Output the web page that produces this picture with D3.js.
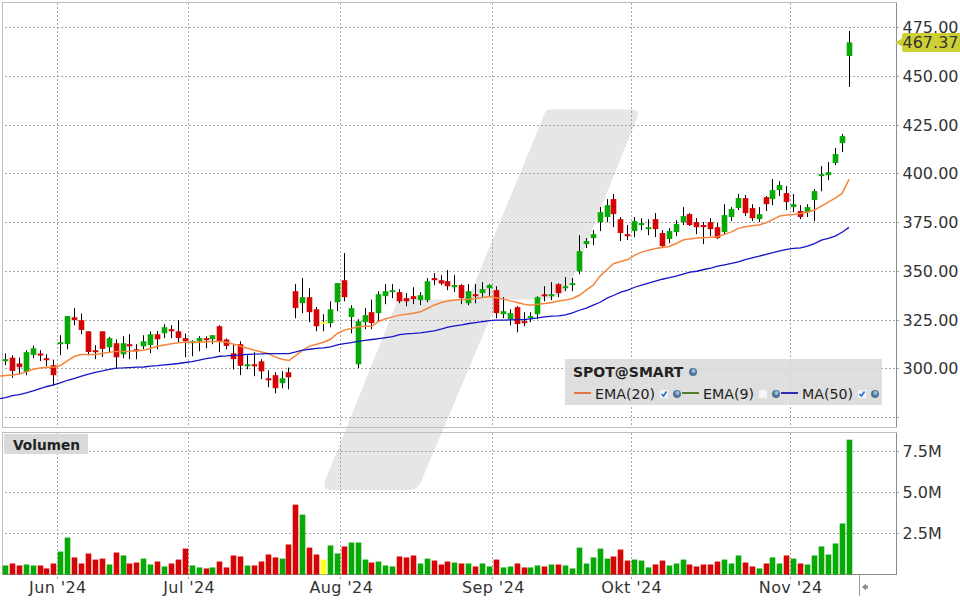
<!DOCTYPE html>
<html>
<head>
<meta charset="utf-8">
<script src="https://cdnjs.cloudflare.com/ajax/libs/d3/7.8.5/d3.min.js"></script>
<style>
  html, body { margin: 0; padding: 0; background: #fff; }
  svg { display: block; font-family: "DejaVu Sans", sans-serif; }
  .grid line { stroke: #a6a6a6; stroke-dasharray: 2 2; shape-rendering: crispEdges; }
  .grid path { display: none; }
  .labels path, .labels line { display: none; }
  .labels text { fill: #333; }
</style>
</head>
<body>
<svg id="chart" width="960" height="600"></svg>
<script>
// Candles, one entry per trading day
const opens = [304.0,305.7,302.7,298.4,307.1,307.8,305.4,301.8,312.6,312.7,326.4,324.9,319.2,309.5,319.2,311.0,313.1,307.4,312.6,310.0,
  311.5,312.1,317.7,318.2,320.3,319.2,315.7,313.1,314.1,315.7,315.1,321.8,315.0,307.9,312.6,301.3,302.3,303.8,295.1,296.7,
  292.6,298.2,339.8,333.6,336.7,330.5,323.5,323.4,334.1,345.4,326.5,302.3,323.9,329.0,328.5,337.2,339.3,339.3,336.2,337.2,
  335.2,335.2,346.5,345.4,344.9,341.8,342.9,333.6,338.2,338.8,341.3,340.3,328.0,325.4,331.6,324.4,326.0,328.0,338.2,337.2,
  343.4,341.3,342.9,350.0,363.9,367.0,375.2,377.8,387.0,376.7,369.0,370.6,373.7,371.6,376.7,369.6,366.5,370.1,375.2,379.3,
  375.2,373.7,375.2,372.6,370.1,377.8,382.4,387.5,382.4,376.7,388.0,387.0,391.6,390.1,382.9,380.9,380.3,386.5,398.8,399.3,
  405.5,415.7,460.4];
const closes = [304.9,298.9,300.8,308.5,310.5,306.9,304.4,296.7,313.6,327.0,324.9,319.9,308.6,308.6,310.2,315.7,305.9,313.1,311.5,309.3,
  314.1,317.7,315.1,321.3,319.2,315.7,314.1,314.1,315.7,314.8,317.2,314.1,311.7,304.9,301.5,302.3,301.3,298.7,294.1,290.0,
  295.1,295.6,331.1,336.7,329.0,321.8,323.5,330.5,343.9,336.7,331.1,324.4,327.5,323.4,338.2,339.8,340.3,334.6,334.6,335.7,
  337.7,344.9,345.4,343.7,342.3,342.9,336.2,339.8,337.2,340.8,342.9,328.5,329.5,328.5,322.9,323.4,327.0,336.7,337.2,338.2,
  338.8,342.3,343.9,360.3,365.5,369.0,380.3,383.9,379.3,369.6,368.0,375.7,374.7,372.6,371.6,362.9,370.6,374.2,378.3,373.7,
  372.6,372.6,371.6,367.0,378.8,381.9,387.5,379.8,377.2,379.3,384.4,391.6,394.2,385.5,384.4,377.8,382.9,391.1,399.8,400.8,
  410.1,419.3,467.4];
const highs = [307.8,306.9,305.7,309.5,311.9,309.5,307.4,304.7,317.2,327.0,331.1,328.3,319.2,312.1,319.2,316.3,315.1,316.7,317.7,312.6,
  317.2,319.2,319.4,322.8,322.3,324.9,318.0,314.6,316.7,316.7,317.2,322.3,315.5,312.6,314.1,306.9,308.5,304.9,299.2,298.2,
  298.7,300.6,343.4,346.5,341.3,331.6,328.0,334.6,343.9,359.3,332.6,325.4,331.1,335.5,339.8,343.4,343.4,340.8,338.8,341.8,
  339.3,346.5,349.0,348.0,350.6,348.0,343.4,343.4,343.4,344.4,343.4,342.3,336.7,330.5,332.1,329.0,329.0,337.2,342.3,344.4,
  343.9,347.0,346.5,368.5,367.0,371.1,382.9,387.0,389.6,377.8,373.7,377.8,377.2,376.7,379.8,371.1,372.1,376.2,382.9,379.8,
  377.2,375.2,377.2,374.7,384.4,382.9,389.6,389.1,384.4,382.9,388.6,397.3,396.2,393.7,389.6,383.9,384.4,392.1,403.9,406.0,
  413.2,420.4,473.2];
const lows = [301.8,295.3,297.2,296.7,305.4,304.0,301.3,291.5,306.9,310.0,322.3,317.7,306.9,304.9,306.1,308.6,300.1,305.4,304.9,304.9,
  310.0,308.0,310.0,315.7,315.7,313.6,305.9,306.4,309.0,310.5,312.6,308.5,310.0,299.7,296.7,299.7,296.2,294.6,290.5,287.4,
  290.0,289.5,325.9,328.5,323.9,319.2,319.2,321.3,329.5,334.6,318.2,300.3,320.3,320.3,324.4,333.1,336.2,333.6,332.1,333.1,
  332.6,334.1,342.9,342.9,340.3,339.3,333.1,332.6,333.6,336.7,337.2,325.9,325.9,322.3,318.7,321.8,323.9,325.4,334.6,335.2,
  336.7,339.8,339.8,348.5,361.9,363.4,370.6,375.2,372.6,365.5,366.0,367.5,371.1,368.5,367.5,362.4,364.4,368.0,373.7,373.2,
  369.0,363.9,368.0,366.5,369.0,375.7,381.4,378.3,375.7,375.2,380.9,383.9,388.6,381.4,380.3,376.7,377.8,375.7,391.0,396.7,
  404.4,411.1,444.5];
// Volume in millions of shares
const volumes = [.55,.67,.55,.61,.55,.55,.37,.67,1.40,2.25,1.04,.67,1.28,.91,.97,.61,1.34,1.16,.67,.73,
  .97,.61,.79,.49,.67,.91,1.58,.55,.43,.37,.43,.79,.43,1.16,1.10,.55,.55,.79,1.22,1.04,
  .97,1.83,4.26,3.65,1.64,1.22,.91,1.77,1.28,1.71,1.95,1.95,.91,.73,.79,.55,.49,1.10,1.04,1.16,
  .67,.97,.85,.61,.79,.73,.67,.67,.49,.67,.49,.91,.43,.49,.67,.43,.43,.55,.49,.61,
  .61,.55,.37,1.64,.67,1.04,1.58,.97,1.10,1.52,.85,.91,.85,.43,.61,.85,.55,.67,.91,.61,
  .49,.61,.61,.79,.91,.67,1.16,.73,.49,.37,.67,1.04,.67,1.16,.97,.67,.61,1.16,1.71,1.22,
  1.89,3.11,8.22];
// Moving averages start one bar before the first candle
const ema20 = [296.2,296.5,296.8,297.3,298.4,299.7,300.4,300.8,300.8,301.8,304.2,306.4,307.3,307.3,307.3,307.9,308.4,308.8,308.9,309.0,309.2,
  309.5,310.5,311.5,312.2,312.8,313.3,313.6,313.6,313.6,313.9,314.0,314.0,313.6,312.6,311.5,310.5,309.5,308.6,307.8,306.1,
  304.9,304.2,306.9,309.5,311.6,312.6,313.6,315.1,318.1,319.8,320.6,321.5,321.8,321.8,324.4,325.6,326.6,327.5,328.0,328.5,
  329.2,330.9,332.6,334.0,334.7,335.2,335.5,335.7,336.0,336.5,337.0,336.4,335.7,334.8,334.0,333.1,332.6,333.1,333.5,334.0,
  334.7,335.2,336.0,337.7,340.3,342.9,347.5,350.9,354.0,355.0,356.0,358.3,359.8,360.8,361.7,362.2,362.7,364.2,366.0,366.6,
  367.0,367.2,367.4,367.7,368.9,370.2,372.0,372.8,373.3,373.7,374.9,376.6,378.3,378.8,379.1,379.6,380.3,381.4,383.4,385.5,
  387.5,389.9,397.1];
const ma50 = [284.5,285.2,286.2,286.7,287.6,288.6,289.8,290.9,291.7,292.9,294.1,295.1,296.2,297.2,298.2,298.9,299.7,300.3,300.4,300.6,300.8,
  300.9,301.3,301.6,302.0,302.3,302.7,303.2,303.7,304.4,305.2,305.7,306.4,306.6,306.9,307.1,307.4,307.5,307.6,307.8,307.8,
  307.8,307.8,308.6,309.5,310.0,310.4,310.7,311.2,312.2,312.9,313.4,314.0,314.5,315.0,315.5,316.0,316.5,317.5,317.9,318.1,
  318.4,318.9,319.4,320.3,321.3,322.0,322.5,323.2,323.7,324.2,324.7,324.9,324.9,325.1,325.2,325.2,325.6,326.1,326.6,327.0,
  327.1,327.6,328.7,330.0,331.1,332.6,334.1,336.2,337.7,339.3,340.3,341.8,342.9,343.9,344.9,345.9,346.7,347.5,348.5,349.5,
  350.0,350.9,351.6,352.6,353.3,354.0,354.8,355.9,356.9,357.7,358.6,359.5,360.5,361.2,361.7,362.0,362.9,364.2,366.0,366.8,
  368.0,370.0,372.5];
// Axis ticks
const priceTicks = [300, 325, 350, 375, 400, 425, 450, 475];
const priceGrid = [275, 300, 325, 350, 375, 400, 425, 450, 475];
const volumeTicks = [2.5, 5, 7.5];
const monthBreaks = [7.5, 26.5, 48.5, 70.5, 90.5, 113.5];
const monthNames = ["Jun '24", "Jul '24", "Aug '24", "Sep '24", "Okt '24", "Nov '24"];
const lastPrice = 467.37;
const symbolName = "SPOT@SMART";
const volumeTitle = "Volumen";
const legendNames = ["EMA(20)", "EMA(9)", "MA(50)"];

const svg = d3.select("#chart");

const GREEN = "#06a906", RED = "#d60404", YELLOW = "#ffff1a";

// Panel frames in page pixels
const left = 2.5, right = 896.5;
const mainTop = 2.5, mainBottom = 427.5;
const volTop = 432.5, volBottom = 574.5;

// Scales
const xScale = d3.scaleLinear().domain([0, opens.length - 1]).range([5.5, 849]);
const yScale = d3.scaleLinear().domain([275, 475]).range([417.5, 27.5]);
const volScale = d3.scaleLinear().domain([0, 7.5]).range([volBottom, 451.5]);

// Watermark behind both panels, two offset slanted bands
svg.append("path")
  .attr("d", "M548,109.5H632Q640,110 637,118L572,280Q563,299 545,299.5H498L423,477Q419,490 410,490H333Q322,490 325,481L398,299.5H468L542,120Q545,110 548,109.5Z")
  .attr("fill", "#e6e6e6");

// Grid lines come from plain axes with long ticks
function hGrid(scale, values) {
  return svg.append("g")
    .attr("class", "grid")
    .attr("transform", `translate(${right + 2},0)`)
    .call(d3.axisLeft(scale).offset(0).tickValues(values).tickSize(right + 2 - left).tickFormat(""));
}
hGrid(yScale, priceGrid);
hGrid(volScale, volumeTicks);

svg.append("g")
  .attr("class", "grid")
  .attr("transform", `translate(0,${mainTop})`)
  .call(d3.axisBottom(xScale).offset(0).tickValues(monthBreaks).tickSize(mainBottom - mainTop).tickFormat(""));
svg.append("g")
  .attr("class", "grid")
  .attr("transform", `translate(0,${volTop})`)
  .call(d3.axisBottom(xScale).offset(0).tickValues(monthBreaks).tickSize(volBottom + 4 - volTop).tickFormat(""));

// Panel frames
function frame(top, bottom, bottomColor) {
  const g = svg.append("g").attr("shape-rendering", "crispEdges").attr("fill", "none");
  g.append("path").attr("d", `M${left},${bottom}V${top}H${right}`).attr("stroke", "#bdbdbd").attr("stroke-width", 1.5);
  g.append("path").attr("d", `M${right},${top}V${bottom}`).attr("stroke", "#8c8c8c");
  g.append("path").attr("d", `M${left},${bottom}H${right}`).attr("stroke", bottomColor);
}
frame(mainTop, mainBottom, "#bdbdbd");
frame(volTop, volBottom, "#8c8c8c");

const barIndex = d3.range(opens.length);
const barColor = (i) => (opens[i] === closes[i] ? YELLOW : closes[i] > opens[i] ? GREEN : RED);
const pixelLeft = (i) => Math.round(xScale(i) - 2.5);
const barWidth = 5.6;

// Candle wicks and bodies
svg.append("g")
  .selectAll("rect")
  .data(barIndex)
  .join("rect")
  .attr("x", (i) => pixelLeft(i) + 2)
  .attr("width", 1)
  .attr("y", (i) => yScale(highs[i]))
  .attr("height", (i) => yScale(lows[i]) - yScale(highs[i]))
  .attr("fill", "#000");

svg.append("g")
  .selectAll("rect")
  .data(barIndex)
  .join("rect")
  .attr("x", (i) => pixelLeft(i) - 0.3)
  .attr("width", barWidth)
  .attr("y", (i) => yScale(Math.max(opens[i], closes[i])) - (opens[i] === closes[i] ? 1 : 0))
  .attr("height", (i) => Math.max(2, yScale(Math.min(opens[i], closes[i])) - yScale(Math.max(opens[i], closes[i]))))
  .attr("fill", barColor);

// Volume bars
svg.append("g")
  .selectAll("rect")
  .data(barIndex)
  .join("rect")
  .attr("x", (i) => pixelLeft(i) - 0.3)
  .attr("width", barWidth)
  .attr("y", (i) => volScale(volumes[i]))
  .attr("height", (i) => volBottom - volScale(volumes[i]))
  .attr("fill", barColor);

// Moving average lines
const maLine = d3.line()
  .x((d, i) => xScale(i - 1))
  .y((d) => yScale(d));

svg.append("path")
  .datum(ema20)
  .attr("d", maLine)
  .attr("fill", "none")
  .attr("stroke", "#f5853c")
  .attr("stroke-width", 1.5);

svg.append("path")
  .datum(ma50)
  .attr("d", maLine)
  .attr("fill", "none")
  .attr("stroke", "#1414c8")
  .attr("stroke-width", 1.3);

// Axis labels
svg.append("g")
  .attr("class", "labels")
  .attr("transform", `translate(${right},0)`)
  .call(d3.axisRight(yScale).tickValues(priceTicks).tickSize(0).tickPadding(6).tickFormat(d3.format(".2f")))
  .selectAll("text").attr("font-size", 16).attr("font-family", "DejaVu Sans");

svg.append("g")
  .attr("class", "labels")
  .attr("transform", `translate(${right},0)`)
  .call(d3.axisRight(volScale).tickValues(volumeTicks).tickSize(0).tickPadding(6).tickFormat((d) => d3.format(".1f")(d) + "M"))
  .selectAll("text").attr("font-size", 16).attr("font-family", "DejaVu Sans");

svg.append("g")
  .attr("class", "labels")
  .attr("transform", `translate(0,${volBottom})`)
  .call(d3.axisBottom(xScale).tickValues(monthBreaks).tickSize(0).tickPadding(7).tickFormat((d, i) => monthNames[i]))
  .selectAll("text").attr("font-size", 16).attr("letter-spacing", 0.4).attr("font-family", "DejaVu Sans");

// Flag with the last price
const flagY = yScale(lastPrice);
svg.append("path")
  .attr("d", `M895,${flagY}L902,${flagY - 4}V${flagY - 7}Q902,${flagY - 9.5} 904,${flagY - 9.5}H960V${flagY + 9.5}H904Q902,${flagY + 9.5} 902,${flagY + 7}V${flagY + 4}Z`)
  .attr("fill", "#cdd035");
svg.append("text")
  .attr("x", 902.5)
  .attr("y", flagY + 6)
  .attr("font-size", 16)
  .attr("fill", "#333")
  .text(lastPrice.toFixed(2));

// Small icons used in the legend
function globe(x, y) {
  const g = svg.append("g");
  g.append("circle").attr("cx", x).attr("cy", y).attr("r", 4).attr("fill", "#4f7596");
  g.append("circle").attr("cx", x + 0.5).attr("cy", y - 1).attr("r", 2).attr("fill", "#9dbdd8");
}
function checkbox(x, y, checked) {
  svg.append("rect").attr("x", x - 4).attr("y", y - 4).attr("width", 8).attr("height", 8).attr("fill", "#f4f4fa");
  if (checked) {
    svg.append("path")
      .attr("d", `M${x - 2.5},${y}L${x - 0.5},${y + 2}L${x + 2.5},${y - 2.5}`)
      .attr("fill", "none")
      .attr("stroke", "#1f6fd0")
      .attr("stroke-width", 1.6);
  }
}

// Legend box, the grid shines through a little
svg.append("rect")
  .attr("x", 565).attr("y", 359).attr("width", 317).attr("height", 46)
  .attr("fill", "#d9d9d9").attr("opacity", 0.88);
svg.append("text")
  .attr("x", 573).attr("y", 377)
  .attr("font-size", 14).attr("font-weight", "bold").attr("fill", "#222")
  .text(symbolName);
globe(693, 372);

const legendX = [574, 682, 781];
const legendColors = ["#e0601a", "#336600", "#0000aa"];
const legendChecked = [true, false, true];
const legendBoxX = [664, 763, 862];
const legendGlobeX = [677, 776, 875];
legendNames.forEach(function (name, k) {
  svg.append("line")
    .attr("x1", legendX[k]).attr("x2", legendX[k] + 17)
    .attr("y1", 393).attr("y2", 393)
    .attr("stroke", legendColors[k]).attr("stroke-width", 1.6);
  svg.append("text")
    .attr("x", legendX[k] + 21).attr("y", 399)
    .attr("font-size", 14.2).attr("fill", "#222")
    .text(name);
  checkbox(legendBoxX[k], 394, legendChecked[k]);
  globe(legendGlobeX[k], 394);
});

// Volume title box
svg.append("rect")
  .attr("x", 4).attr("y", 434).attr("width", 84).attr("height", 20)
  .attr("fill", "#d9d9d9");
svg.append("text")
  .attr("x", 13).attr("y", 450)
  .attr("font-size", 13.7).attr("font-weight", "bold").attr("fill", "#222")
  .text(volumeTitle);

// Scroll marker under the last bar
svg.append("line")
  .attr("x1", 859.5).attr("x2", 859.5).attr("y1", volBottom).attr("y2", 596)
  .attr("stroke", "#9a9a9a");
svg.append("path")
  .attr("d", "M862,587L866,583.5V590.5Z")
  .attr("fill", "#8c8c8c");
svg.append("rect")
  .attr("x", 865).attr("y", 585.5).attr("width", 3).attr("height", 3)
  .attr("fill", "#8c8c8c");
</script>
</body>
</html>
